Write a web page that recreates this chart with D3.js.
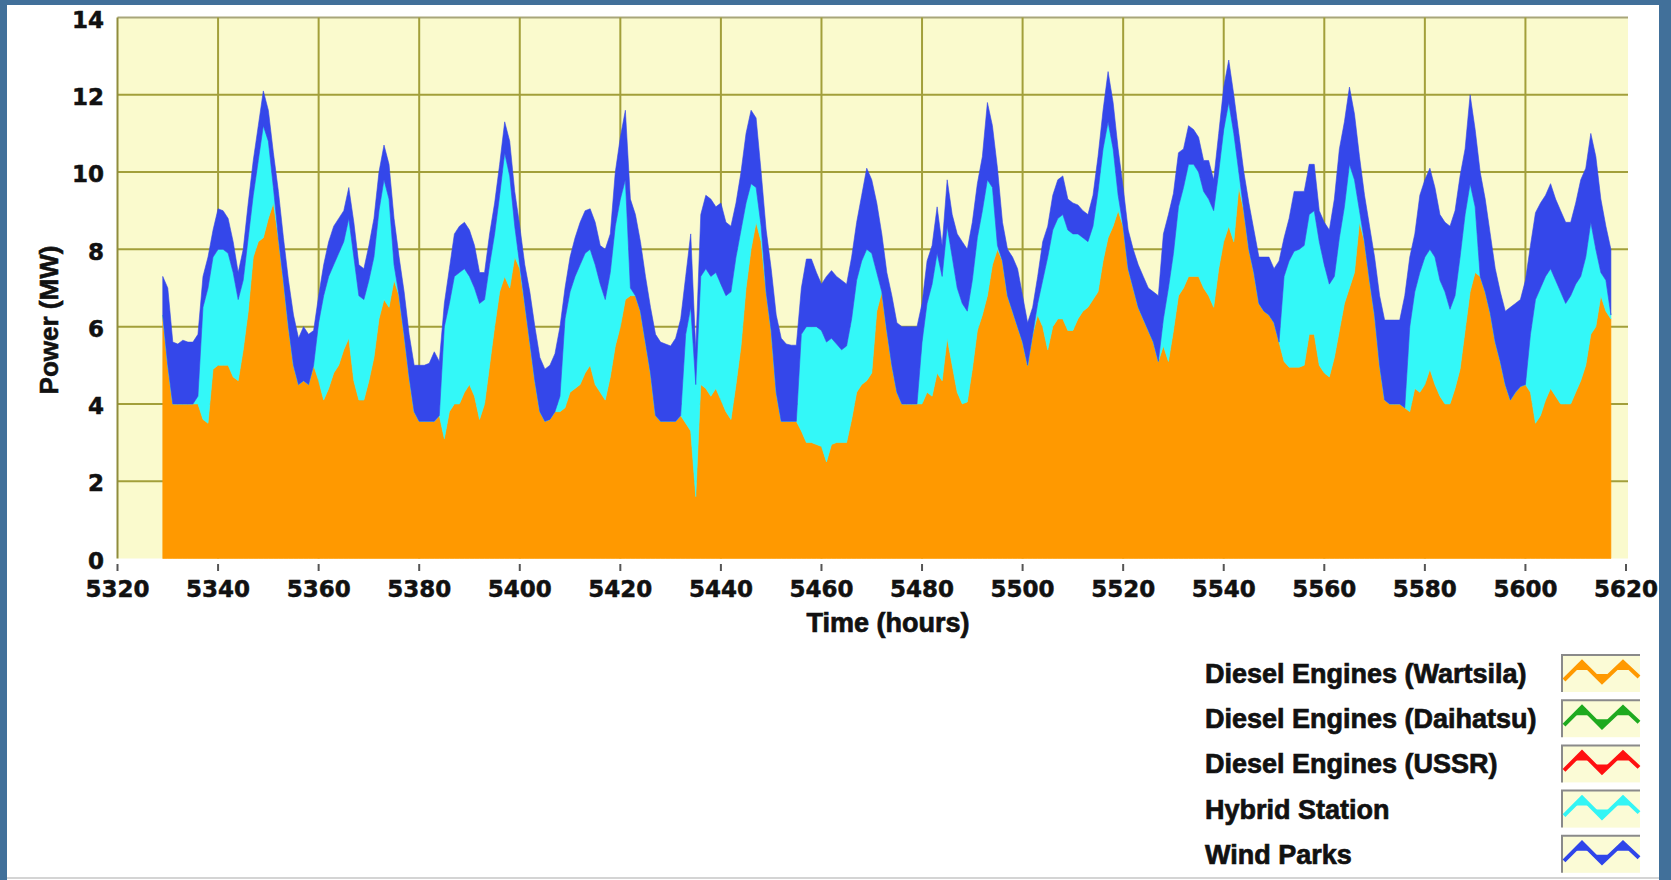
<!DOCTYPE html>
<html>
<head>
<meta charset="utf-8">
<script src="https://cdn.jsdelivr.net/npm/d3@7"></script>
<style>
  html, body { margin: 0; padding: 0; background: #41709a; }
  svg { display: block; }
</style>
</head>
<body>
<svg id="chart" width="1671" height="880"></svg>
<script>
// Hourly generation by source, MW, from hour 5329 to hour 5617
const firstHour = 5329;

const wartsila = [
  6.3, 5.0, 4.0, 4.0, 4.0, 4.0, 4.0, 4.0, 3.6, 3.5,
  4.9, 5.0, 5.0, 5.0, 4.7, 4.6, 5.4, 6.4, 7.8, 8.2,
  8.3, 8.8, 9.2, 8.3, 7.2, 6.0, 5.0, 4.5, 4.6, 4.5,
  5.0, 4.6, 4.1, 4.4, 4.8, 5.0, 5.4, 5.7, 4.6, 4.1,
  4.1, 4.6, 5.2, 6.2, 6.7, 6.5, 7.2, 6.8, 5.8, 4.7,
  3.8, 3.55, 3.55, 3.55, 3.55, 3.7, 3.1, 3.8, 4.0, 4.0,
  4.3, 4.5, 4.2, 3.6, 4.0, 5.0, 6.0, 6.9, 7.3, 7.0,
  7.8, 7.5, 6.6, 5.6, 4.6, 3.8, 3.55, 3.6, 3.8, 3.8,
  3.9, 4.3, 4.4, 4.5, 4.8, 5.0, 4.5, 4.3, 4.1, 4.7,
  5.5, 6.0, 6.7, 6.8, 6.8, 6.4, 5.6, 4.8, 3.7, 3.55,
  3.55, 3.55, 3.55, 3.7, 3.5, 3.3, 1.6, 4.5, 4.4, 4.2,
  4.4, 4.1, 3.8, 3.6, 4.5, 5.5, 7.0, 8.0, 8.7, 8.2,
  6.9, 5.9, 4.3, 3.55, 3.55, 3.55, 3.55, 3.3, 3.0, 3.0,
  2.95, 2.9, 2.5, 2.95, 3.0, 3.0, 3.0, 3.6, 4.3, 4.5,
  4.6, 4.8, 6.4, 6.9, 5.9, 5.0, 4.3, 4.0, 4.0, 4.0,
  4.0, 4.0, 4.3, 4.2, 4.8, 4.6, 5.7, 5.0, 4.3, 4.0,
  4.05, 4.9, 5.9, 6.3, 6.8, 7.6, 8.0, 7.7, 6.8, 6.4,
  6.0, 5.6, 5.0, 5.8, 6.3, 6.0, 5.4, 6.0, 6.2, 6.2,
  5.9, 5.9, 6.2, 6.4, 6.5, 6.7, 6.9, 7.7, 8.3, 8.6,
  9.0, 8.6, 7.5, 7.0, 6.5, 6.2, 5.9, 5.6, 5.1, 5.5,
  5.1, 5.9, 6.8, 7.0, 7.3, 7.3, 7.3, 7.0, 6.8, 6.5,
  7.5, 8.2, 8.6, 8.2, 9.6, 9.0, 8.0, 7.4, 6.6, 6.4,
  6.3, 6.1, 5.6, 5.1, 4.95, 4.95, 4.95, 5.0, 5.8, 5.8,
  5.0, 4.8, 4.7, 5.2, 5.9, 6.6, 7.0, 7.4, 8.7, 8.2,
  7.2, 6.3, 5.0, 4.1, 4.0, 4.0, 4.0, 3.9, 3.8, 4.4,
  4.3, 4.5, 4.9, 4.5, 4.2, 4.0, 4.0, 4.4, 4.9, 5.9,
  6.9, 7.4, 7.3, 6.9, 6.35, 5.6, 5.1, 4.5, 4.1, 4.3,
  4.45, 4.5, 4.3, 3.5, 3.7, 4.1, 4.4, 4.2, 4.0, 4.0,
  4.0, 4.3, 4.6, 5.0, 5.8, 6.0, 6.8, 6.4, 6.2
];

const hybrid = [
  0, 0, 0, 0, 0, 0, 0, 0.2, 2.9, 3.5,
  2.9, 3.0, 3.0, 2.9, 2.7, 2.1, 1.8, 1.9, 1.6, 2.1,
  2.9, 2.0, 0.4, 0, 0, 0, 0, 0, 0, 0,
  0, 1.5, 2.7, 2.9, 2.8, 2.9, 2.8, 3.1, 3.2, 2.7,
  2.6, 2.6, 2.6, 2.8, 3.1, 2.8, 0.4, 0, 0, 0,
  0, 0, 0, 0, 0, 0, 2.9, 2.8, 3.3, 3.4,
  3.2, 2.8, 2.8, 3.0, 2.7, 2.6, 2.4, 2.5, 3.2, 2.9,
  0.8, 0.1, 0, 0, 0, 0, 0, 0, 0, 0.4,
  2.3, 2.6, 2.9, 3.1, 3.1, 3.0, 3.1, 2.8, 2.6, 2.7,
  3.1, 3.3, 3.1, 0.2, 0, 0, 0, 0, 0, 0,
  0, 0, 0, 0, 2.3, 3.2, 2.9, 2.8, 3.1, 3.1,
  3.0, 3.0, 3.0, 3.3, 3.3, 3.0, 2.2, 1.7, 0.9, 0.4,
  0, 0, 0, 0, 0, 0, 0, 2.5, 3.0, 3.0,
  3.05, 3.0, 3.1, 2.75, 2.55, 2.4, 2.5, 2.6, 2.9, 3.2,
  3.4, 3.1, 1.0, 0, 0, 0, 0, 0, 0, 0,
  0, 1.6, 2.3, 2.9, 3.1, 2.7, 2.9, 2.8, 2.7, 2.6,
  2.35, 2.3, 2.4, 2.7, 3.0, 2.0, 0.1, 0, 0, 0,
  0, 0, 0, 0, 0.3, 1.2, 2.4, 2.5, 2.6, 2.7,
  2.6, 2.5, 2.2, 1.9, 1.7, 1.9, 2.6, 2.9, 3.0, 2.0,
  0.4, 0, 0, 0, 0, 0, 0, 0, 0, 0.7,
  1.9, 2.0, 2.3, 2.6, 2.9, 2.9, 2.7, 2.5, 2.5, 2.5,
  2.5, 2.9, 3.2, 2.8, 0.4, 0, 0, 0, 0, 0,
  0, 0, 0, 2.2, 2.75, 3.0, 3.05, 3.1, 3.1, 3.2,
  3.2, 2.8, 2.4, 2.1, 2.4, 2.5, 3.2, 2.4, 0.3, 0,
  0, 0, 0, 0, 0, 0, 0, 0, 2.2, 2.5,
  3.1, 3.3, 3.1, 3.3, 3.0, 2.9, 2.45, 2.4, 2.9, 3.0,
  2.8, 1.7, 0, 0, 0, 0, 0, 0, 0, 0,
  0, 0, 1.5, 3.2, 3.3, 3.2, 3.1, 3.0, 2.9, 2.6,
  2.8, 2.8, 2.7, 2.8, 2.9, 2.0, 0.6, 0.8, 0.1
];

const wind = [
  1.0, 2.0, 1.6, 1.55, 1.65, 1.6, 1.6, 1.6, 0.8, 0.8,
  0.7, 1.05, 1.0, 0.9, 0.8, 0.7, 0.8, 0.9, 0.9, 0.9,
  0.9, 0.8, 0.9, 1.2, 1.1, 1.2, 1.3, 1.2, 1.4, 1.3,
  0.9, 0.7, 0.8, 0.9, 1.0, 0.9, 0.8, 0.8, 0.9, 0.8,
  0.8, 0.9, 1.0, 1.0, 0.9, 0.9, 1.2, 1.0, 1.1, 1.1,
  1.2, 1.45, 1.45, 1.5, 1.8, 1.4, 0.6, 0.9, 1.1, 1.2,
  1.2, 1.2, 1.1, 0.8, 0.7, 0.8, 0.8, 0.8, 0.8, 0.9,
  0.9, 1.0, 1.0, 1.3, 1.4, 1.4, 1.35, 1.4, 1.5, 1.8,
  0.8, 0.9, 1.0, 1.1, 1.1, 1.05, 1.1, 1.0, 1.3, 1.0,
  1.4, 1.6, 1.8, 2.3, 2.1, 1.8, 1.7, 1.7, 2.1, 2.05,
  2.0, 1.95, 2.15, 2.5, 1.5, 1.9, 0.9, 1.6, 1.9, 2.0,
  1.7, 2.1, 1.9, 1.7, 1.4, 1.5, 1.8, 1.9, 1.8, 1.4,
  1.6, 1.6, 2.0, 2.15, 2.0, 1.97, 1.97, 1.2, 1.75, 1.75,
  1.4, 1.2, 1.7, 1.75, 1.75, 1.8, 1.6, 1.6, 1.5, 1.7,
  2.1, 1.9, 1.8, 1.5, 1.5, 1.8, 1.8, 2.0, 2.0, 2.0,
  2.0, 1.0, 1.1, 1.0, 1.2, 0.8, 1.2, 1.1, 1.4, 1.6,
  1.6, 1.5, 1.4, 1.4, 2.0, 1.6, 2.0, 1.0, 1.2, 1.4,
  1.5, 1.2, 1.1, 0.7, 0.7, 1.0, 0.8, 0.9, 1.0, 1.0,
  0.8, 0.8, 0.75, 0.7, 0.7, 0.8, 0.9, 1.0, 1.3, 1.2,
  1.2, 1.0, 1.0, 1.0, 1.1, 1.1, 1.1, 1.3, 1.7, 2.2,
  1.9, 1.55, 1.4, 1.0, 1.0, 0.9, 0.9, 0.8, 1.0, 0.8,
  1.0, 1.1, 1.1, 1.0, 1.0, 1.0, 1.2, 1.1, 1.2, 1.4,
  1.5, 1.4, 2.1, 1.0, 1.1, 1.55, 1.5, 1.4, 1.3, 1.2,
  0.8, 1.1, 1.4, 2.0, 2.3, 2.2, 2.0, 1.7, 1.4, 1.2,
  1.4, 1.5, 1.8, 2.07, 2.17, 2.17, 2.17, 2.9, 1.8, 1.5,
  2.0, 2.0, 2.1, 1.8, 1.7, 1.8, 2.15, 2.2, 2.1, 1.7,
  2.3, 2.0, 2.7, 2.4, 2.05, 1.9, 1.8, 1.9, 2.4, 2.3,
  2.25, 2.7, 2.3, 2.25, 2.2, 2.1, 2.2, 2.1, 2.1, 2.1,
  1.9, 2.1, 2.5, 2.3, 2.3, 2.4, 1.9, 1.4, 1.7
];

const xTicks = [5320, 5340, 5360, 5380, 5400, 5420, 5440, 5460, 5480, 5500,
                5520, 5540, 5560, 5580, 5600, 5620];
const yTicks = [0, 2, 4, 6, 8, 10, 12, 14];

const legendNames = ["Diesel Engines (Wartsila)", "Diesel Engines (Daihatsu)",
                     "Diesel Engines (USSR)", "Hybrid Station", "Wind Parks"];
const legendColors = ["#ff9900", "#1faa1f", "#ff1010", "#33f5f5", "#2f45ea"];

const seriesKeys = ["wartsila", "hybrid", "wind"];
const seriesColors = { wartsila: "#ff9900", hybrid: "#33f8f8", wind: "#3447ea" };

// ---- layout ----
const svg = d3.select("#chart");
const plot = { left: 117.5, right: 1628, top: 17.5, bottom: 558.5 };

const x = d3.scaleLinear().domain([5320, 5620]).range([117.5, 1626]);
const y = d3.scaleLinear().domain([0, 14]).range([plot.bottom, plot.top]);

// white card on the blue backdrop
svg.append("rect").attr("x", 7).attr("y", 5).attr("width", 1652).attr("height", 875)
  .attr("fill", "#ffffff");
svg.append("line").attr("x1", 7).attr("x2", 1659).attr("y1", 878).attr("y2", 878)
  .attr("stroke", "#d4d4d4").attr("stroke-width", 2);

// plot background
svg.append("rect")
  .attr("x", plot.left).attr("y", plot.top)
  .attr("width", plot.right - plot.left).attr("height", plot.bottom - plot.top)
  .attr("fill", "#fafacd");

const gridColor = "#a29f3a";
const grid = svg.append("g");
grid.selectAll("line.h").data(yTicks.filter(v => v > 0)).join("line")
  .attr("x1", plot.left).attr("x2", plot.right)
  .attr("y1", d => y(d)).attr("y2", d => y(d))
  .attr("stroke", d => d === 14 ? "#a8a67a" : gridColor).attr("stroke-width", 2);
grid.selectAll("line.v").data(xTicks.filter(v => v > 5320 && v < 5620)).join("line")
  .attr("x1", d => x(d)).attr("x2", d => x(d))
  .attr("y1", plot.top).attr("y2", plot.bottom)
  .attr("stroke", gridColor).attr("stroke-width", 2);
grid.append("line")
  .attr("x1", plot.left).attr("x2", plot.left)
  .attr("y1", plot.top).attr("y2", plot.bottom)
  .attr("stroke", "#8f8c3c").attr("stroke-width", 2);

// stacked areas
const rows = wartsila.map((w, i) => ({
  hour: firstHour + i, wartsila: w, hybrid: hybrid[i], wind: wind[i]
}));
const stacked = d3.stack().keys(seriesKeys)(rows);
const area = d3.area()
  .x(d => x(d.data.hour))
  .y0(d => y(d[0]))
  .y1(d => y(d[1]))
  .curve(d3.curveLinear);

svg.append("g").selectAll("path").data(stacked).join("path")
  .attr("d", area)
  .attr("fill", d => seriesColors[d.key])
  .attr("stroke", d => seriesColors[d.key])
  .attr("stroke-width", 0.6);

// axes
const font = "'Liberation Sans', Arial, sans-serif";
const tickFont = "'DejaVu Sans', Verdana, sans-serif";
const ink = "#111";

const xAxis = svg.append("g");
xAxis.selectAll("line").data(xTicks).join("line")
  .attr("x1", d => x(d)).attr("x2", d => x(d))
  .attr("y1", 564).attr("y2", 571)
  .attr("stroke", "#555").attr("stroke-width", 2);
xAxis.selectAll("text").data(xTicks).join("text")
  .attr("x", d => x(d)).attr("y", 597)
  .attr("text-anchor", "middle")
  .attr("font-family", tickFont).attr("font-weight", "bold").attr("font-size", 23)
  .attr("fill", ink).attr("stroke", ink).attr("stroke-width", 0.5)
  .text(d => d);

const yAxis = svg.append("g");
yAxis.selectAll("text").data(yTicks).join("text")
  .attr("x", 104).attr("y", d => y(d) + 2)
  .attr("dy", "0.36em")
  .attr("text-anchor", "end")
  .attr("font-family", tickFont).attr("font-weight", "bold").attr("font-size", 23)
  .attr("fill", ink).attr("stroke", ink).attr("stroke-width", 0.5)
  .text(d => d);

svg.append("text")
  .attr("x", 888).attr("y", 632)
  .attr("text-anchor", "middle")
  .attr("font-family", font).attr("font-weight", "bold").attr("font-size", 27)
  .attr("fill", ink).attr("stroke", ink).attr("stroke-width", 0.7)
  .text("Time (hours)");

svg.append("text")
  .attr("transform", "translate(58,320) rotate(-90)")
  .attr("text-anchor", "middle")
  .attr("font-family", font).attr("font-weight", "bold").attr("font-size", 26)
  .attr("fill", ink).attr("stroke", ink).attr("stroke-width", 0.6)
  .text("Power (MW)");

// legend
const legend = svg.append("g");
const rowGap = 45.2;
const item = legend.selectAll("g").data(legendNames).join("g")
  .attr("transform", (d, i) => `translate(0,${i * rowGap})`);

item.append("text")
  .attr("x", 1205).attr("y", 683)
  .attr("font-family", font).attr("font-weight", "bold").attr("font-size", 27)
  .attr("fill", ink).attr("stroke", ink).attr("stroke-width", 0.7)
  .text(d => d);

const bx = 1562, by = 655, bw = 78, bh = 37;
item.append("rect")
  .attr("x", bx).attr("y", by).attr("width", bw).attr("height", bh)
  .attr("fill", "#fbfbd6");
item.append("path")
  .attr("d", `M${bx},${by + bh} V${by} H${bx + bw}`)
  .attr("fill", "none").attr("stroke", "#8a8a8a").attr("stroke-width", 2);

const zig = [[2, 25], [20, 7], [40, 27], [61, 7], [77, 22]];
item.append("polyline")
  .attr("points", zig.map(p => `${bx + p[0]},${by + p[1]}`).join(" "))
  .attr("fill", "none")
  .attr("stroke", (d, i) => legendColors[i])
  .attr("stroke-width", 4)
  .attr("stroke-linejoin", "miter");
// filled markers on the zigzag vertices
const markerPts = [[20, 7, -1], [40, 27, 1], [61, 7, -1]];
markerPts.forEach(([mx, my, dir]) => {
  item.append("path")
    .attr("d", dir < 0
      ? `M${bx + mx - 6},${by + my + 8} L${bx + mx},${by + my - 1} L${bx + mx + 6},${by + my + 8} Z`
      : `M${bx + mx - 6},${by + my - 8} L${bx + mx},${by + my + 1} L${bx + mx + 6},${by + my - 8} Z`)
    .attr("fill", (d, i) => legendColors[i]);
});
</script>
</body>
</html>
